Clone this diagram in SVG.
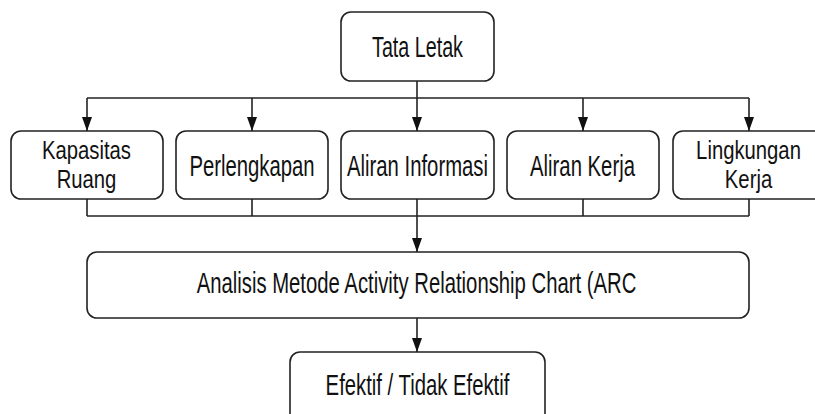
<svg xmlns="http://www.w3.org/2000/svg" width="815" height="414" viewBox="0 0 815 414">
<defs>
<style>
.box{fill:#fff;stroke:#222;stroke-width:1.6}
.t{font-family:"Liberation Sans",Arial,sans-serif;font-size:29px;fill:#111;text-anchor:middle}
.t2{font-size:26px}
.c{fill:none;stroke:#222;stroke-width:1.6}
</style>
<marker id="ah" markerWidth="14" markerHeight="10" refX="14" refY="5" orient="auto" markerUnits="userSpaceOnUse" viewBox="0 0 14 10">
<path d="M0,0 L14,5 L0,10 Z" fill="#111"/>
</marker>
</defs>
<rect width="815" height="414" fill="#fff"/>
<g id="connectors">
<path class="c" d="M417,81 V98"/>
<path class="c" d="M87,98 H749"/>
<path class="c" d="M87,98 V131" marker-end="url(#ah)"/>
<path class="c" d="M252,98 V131" marker-end="url(#ah)"/>
<path class="c" d="M417,98 V131" marker-end="url(#ah)"/>
<path class="c" d="M583,98 V131" marker-end="url(#ah)"/>
<path class="c" d="M749,98 V131" marker-end="url(#ah)"/>
<path class="c" d="M87,199 V216 M252,199 V216 M417,199 V216 M583,199 V216 M749,199 V216"/>
<path class="c" d="M87,216 H749"/>
<path class="c" d="M417,216 V252" marker-end="url(#ah)"/>
<path class="c" d="M417,318 V352" marker-end="url(#ah)"/>
</g>
<g id="tata-letak">
<rect class="box" x="341" y="12" width="153" height="69" rx="10"/>
<text class="t" transform="translate(417.5,57) scale(0.68,1)">Tata Letak</text>
</g>
<g id="kapasitas-ruang">
<rect class="box" x="11" y="131" width="152" height="68" rx="10"/>
<text class="t t2" transform="translate(86.5,158.5) scale(0.78,1)"><tspan x="0" y="0">Kapasitas</tspan><tspan x="0" y="29.5">Ruang</tspan></text>
</g>
<g id="perlengkapan">
<rect class="box" x="176" y="131" width="152" height="68" rx="10"/>
<text class="t" transform="translate(252,176) scale(0.7,1)">Perlengkapan</text>
</g>
<g id="aliran-informasi">
<rect class="box" x="341" y="131" width="153" height="68" rx="10"/>
<text class="t" transform="translate(417.5,176) scale(0.7,1)">Aliran Informasi</text>
</g>
<g id="aliran-kerja">
<rect class="box" x="507" y="131" width="152" height="68" rx="10"/>
<text class="t" transform="translate(582.5,176) scale(0.7,1)">Aliran Kerja</text>
</g>
<g id="lingkungan-kerja">
<rect class="box" x="673" y="131" width="152" height="68" rx="10"/>
<text class="t t2" transform="translate(748.5,158.5) scale(0.78,1)"><tspan x="0" y="0">Lingkungan</tspan><tspan x="0" y="29.5">Kerja</tspan></text>
</g>
<g id="analisis-arc">
<rect class="box" x="87" y="252" width="662" height="66" rx="10"/>
<text class="t" transform="translate(416.5,293) scale(0.7,1)">Analisis Metode Activity Relationship Chart (ARC</text>
</g>
<g id="efektif">
<rect class="box" x="290" y="352" width="255" height="80" rx="10"/>
<text class="t" transform="translate(417.5,395) scale(0.7,1)">Efektif / Tidak Efektif</text>
</g>
</svg>
